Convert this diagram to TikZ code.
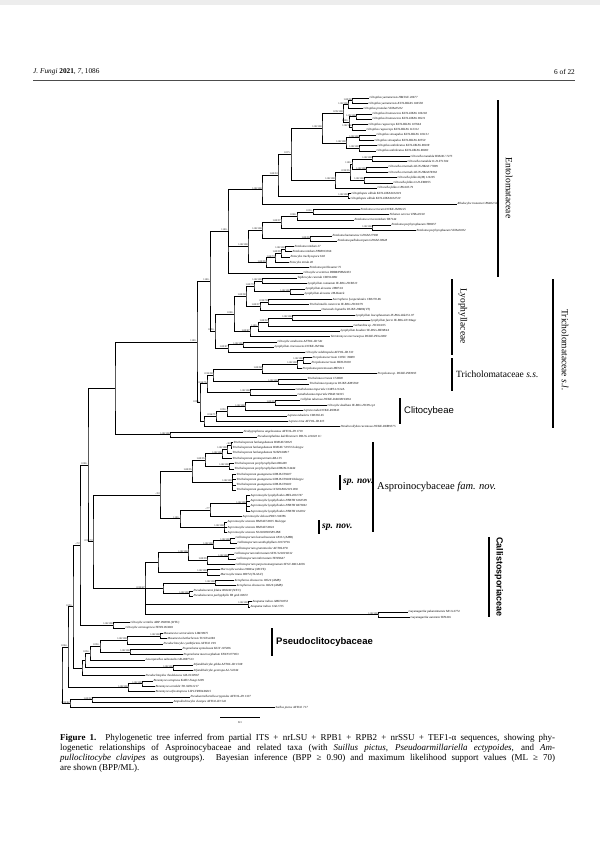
\documentclass[tikz,border=0pt]{standalone}
\usepackage{fontspec}
\setmainfont{Liberation Serif}
\newfontfamily\grpsans{Liberation Sans}
\tikzset{
  br/.style={line width=.6pt},
  taxon/.style={anchor=west,inner sep=.4pt,font=\fontsize{3.1}{3.2}\selectfont\itshape},
  supp/.style={font=\fontsize{2.6}{2.7}\selectfont,inner sep=.2pt},
  fambar/.style={line width=1.2pt},
  spbar/.style={line width=1.6pt},
  fam/.style={inner sep=0pt,font=\fontsize{9.5}{10}\selectfont},
}
\begin{document}
\begin{tikzpicture}[x=1pt,y=-1pt]
\useasboundingbox (0,0) rectangle (600,867);
\fill[black!7] (0,0) rectangle (600,5);
% running head
\node[anchor=west,inner sep=0pt,font=\fontsize{7.3}{8}\selectfont] (hdr) at (33,72) {\textit{J. Fungi} \textbf{2021}, \textit{7}, 1086};
\node[anchor=east,inner sep=0pt,font=\fontsize{7.3}{8}\selectfont] (pg) at (575,72) {6 of 22};
\draw[line width=.4pt,black!70] (33,80) -- (575,80);

\begin{scope}[y=-5.3pt,yshift=-92.7pt]
% taxa
\node[taxon] (t1) at (369,1) {Clitopilus yunnanensis HMJAU 20677};
\node[taxon] (t2) at (368,2) {Clitopilus yunnanensis KUN-HKAS 104558};
\node[taxon] (t3) at (363,3) {Clitopilus prunulus VHAs05/02};
\node[taxon] (t4) at (372,4) {Clitopilus brunnescens KUN-HKAS 106118};
\node[taxon] (t5) at (372,5) {Clitopilus brunnescens KUN-HKAS 90211};
\node[taxon] (t6) at (368,6) {Clitopilus rugosiceps KUN-HKAS 107664};
\node[taxon] (t7) at (366,7) {Clitopilus rugosiceps KUN-HKAS 112312};
\node[taxon] (t8) at (376,8) {Clitopilus sinoapalus KUN-HKAS 101131};
\node[taxon] (t9) at (374,9) {Clitopilus sinoapalus KUN-HKAS 82550};
\node[taxon] (t10) at (377,10) {Clitopilus umbilicatus KUN-HKAS 80018};
\node[taxon] (t11) at (376,11) {Clitopilus umbilicatus KUN-HKAS 80003};
\node[taxon] (t12) at (410,12) {Clitocella mundula HMJAU 7275};
\node[taxon] (t13) at (407,13) {Clitocella mundula O-D-F71504};
\node[taxon] (t14) at (388,14) {Clitocella orientalis KUN-HKAS 77899};
\node[taxon] (t15) at (388,15) {Clitocella orientalis KUN-HKAS78363};
\node[taxon] (t16) at (397,16) {Clitocella fallax K(M) 116195};
\node[taxon] (t17) at (393,17) {Clitocella fallax O-D-F88955};
\node[taxon] (t18) at (377,18) {Clitocella fallax CBS 605.79};
\node[taxon] (t19) at (351,19) {Clitopilopsis albida KUN-HKAS104119};
\node[taxon] (t20) at (350,20) {Clitopilopsis albida KUN-HKAS104720};
\node[taxon] (t21) at (457,21) {Rhodocybe truncata CBS482.50};
\node[taxon] (t22) at (360,22) {Entoloma sericeum DUKE-JM96/25};
\node[taxon] (t23) at (389,23) {Nolanea sericea VHAs03/02};
\node[taxon] (t24) at (354,24) {Entoloma sericeonitidum TB7144};
\node[taxon] (t25) at (391,25) {Entoloma porphyrophaeum TB6957};
\node[taxon] (t26) at (416,26) {Entoloma porphyrophaeum VHAs00/02};
\node[taxon] (t27) at (332,27) {Entoloma hainanense GDGM 27990};
\node[taxon] (t28) at (337,28) {Entoloma pallidocarpum GDGM 28928};
\node[taxon] (t29) at (294,29) {Entoloma nitidum 27};
\node[taxon] (t30) at (292,30) {Entoloma nitidum PBM913366};
\node[taxon] (t31) at (290,31) {Entocybe trachyospora 618};
\node[taxon] (t32) at (289,32) {Entocybe nitida 28};
\node[taxon] (t33) at (309,33) {Entoloma perbloxamii 75};
\node[taxon] (t34) at (303,34) {Clitocybe eccentrica DBB8/PBM2453};
\node[taxon] (t35) at (297,35) {Tephrocybe rancida CBJ914891};
\node[taxon] (t36) at (307,36) {Lyophyllum connatum IE-BSG-HCB513};
\node[taxon] (t37) at (305,37) {Lyophyllum decastes JM87/16};
\node[taxon] (t38) at (304,38) {Lyophyllum decastes JM-Ham/k};
\node[taxon] (t39) at (332,39) {Asterophora lycoperdoides CBS170.86};
\node[taxon] (t40) at (309,40) {Tricholomella constricta IE-BSG-HC94/79};
\node[taxon] (t41) at (321,41) {Ossicaulis lignatilis DUKE-DM06(VT)};
\node[taxon] (t42) at (355,42) {Lyophyllum leucophaeatum IE-BSG-Ktk251.97};
\node[taxon] (t43) at (370,43) {Lyophyllum favrei IE-BSG-HC94agc};
\node[taxon] (t44) at (353,44) {Gerhardtia sp. HC81/025};
\node[taxon] (t45) at (340,45) {Lyophyllum boudieri IE-BSG-HE98/44};
\node[taxon] (t46) at (330,46) {Termitomyces microcarpus DUKE-PEG2000};
\node[taxon] (t47) at (277,47) {Clitocybe candicans AFTOL-ID 541};
\node[taxon] (t48) at (274,48) {Lyophyllum cinerascens DUKE-JM 98a};
\node[taxon] (t49) at (305,49) {Clitocybe subditopoda AFTOL-ID 533};
\node[taxon] (t50) at (312,50) {Porpoloma terreum CONC 39809};
\node[taxon] (t51) at (311,51) {Porpoloma terreum HESU0030};
\node[taxon] (t52) at (302,52) {Porpoloma portentosum MES311};
\node[taxon] (t53) at (377,53) {Porpoloma sp. DUKE-PR3995};
\node[taxon] (t54) at (307,54) {Tricholoma terreum C59800};
\node[taxon] (t55) at (309,55) {Tricholoma myomyces DUKE-KM5569};
\node[taxon] (t56) at (295,56) {Catathelasma imperiale CORT-11CA/A};
\node[taxon] (t57) at (297,57) {Catathelasma imperiale PRAS 94315};
\node[taxon] (t58) at (300,58) {Collybia tuberosa DUKE-DAOM193061};
\node[taxon] (t59) at (327,59) {Clitocybe dealbata IE-BSG-HC99 ep1};
\node[taxon] (t60) at (303,60) {Lepista nuda DUKE-RVM45};
\node[taxon] (t61) at (287,61) {Lepista nebularis CBS365.65};
\node[taxon] (t62) at (288,62) {Lepista irina AFTOL-ID 815};
\node[taxon] (t63) at (340,63) {Dendrocollybia racemosa DUKE-DHR9575};
\node[taxon] (t64) at (243,64) {Neohygrophorus angelesianus AFTOL-ID 1719};
\node[taxon] (t65) at (257,65) {Pseudoomphalina kalchbrenneri DB IG 221020 1C};
\node[taxon] (t66) at (233,66) {Tricholosporum hailangshanum HMJAU59025};
\node[taxon] (t67) at (232,67) {Tricholosporum hailangshanum HMJAU 53972 holotype};
\node[taxon] (t68) at (232,68) {Tricholosporum hailangshanum NJZZ160817};
\node[taxon] (t69) at (232,69) {Tricholosporum goniospermum AR-135};
\node[taxon] (t70) at (234,70) {Tricholosporum porphyrophyllum 866449};
\node[taxon] (t71) at (234,71) {Tricholosporum porphyrophyllum HMJAU24444};
\node[taxon] (t72) at (236,72) {Tricholosporum guangxiense HMJAU59027};
\node[taxon] (t73) at (236,73) {Tricholosporum guangxiense HMJAU59028 Holotype};
\node[taxon] (t74) at (236,74) {Tricholosporum guangxiense HMJAU59023};
\node[taxon] (t75) at (236,75) {Tricholosporum guangxiense NJ2018022119 008};
\node[taxon] (t76) at (250,76) {Asproinocybe lyophylloides MEL2032747};
\node[taxon] (t77) at (250,77) {Asproinocybe lyophylloides PERTH 6163599};
\node[taxon] (t78) at (250,78) {Asproinocybe lyophylloides PERTH 8473861};
\node[taxon] (t79) at (250,79) {Asproinocybe lyophylloides PERTH 104292};
\node[taxon] (t80) at (242,80) {Asproinocybe dolosa PDD 104786};
\node[taxon] (t81) at (227,81) {Asproinocybe sinensis HMJAU59035 Holotype};
\node[taxon] (t82) at (227,82) {Asproinocybe sinensis HMJAU59024};
\node[taxon] (t83) at (227,83) {Asproinocybe sinensis NJ2020081589 IBK};
\node[taxon] (t84) at (235,84) {Callistosporium luteoolivaceum 18331 (AMB)};
\node[taxon] (t85) at (237,85) {Callistosporium xanthophyllum 20170716};
\node[taxon] (t86) at (235,86) {Callistosporium graminicolor AFTOL978};
\node[taxon] (t87) at (234,87) {Callistosporium imbricatum SFSU12020 8232};
\node[taxon] (t88) at (236,88) {Callistosporium imbricatum TENN647};
\node[taxon] (t89) at (235,89) {Callistosporium purpureomarginatum SFSU 4863-8236};
\node[taxon] (t90) at (220,90) {Macrocybe sardoa 2968Ga (MCVE)};
\node[taxon] (t91) at (220,91) {Macrocybe titans 98974 (TLAS-F)};
\node[taxon] (t92) at (234,92) {Xerophorus olivascens 18524 (AMB)};
\node[taxon] (t93) at (236,93) {Xerophorus olivascens 18226 (AMB)};
\node[taxon] (t94) at (193,94) {Pseudolaccaria feldea 008240 (WTU)};
\node[taxon] (t95) at (193,95) {Pseudolaccaria pachyphylla TR gmb 00672};
\node[taxon] (t96) at (252,96) {Anupama indica AMH10353};
\node[taxon] (t97) at (250,97) {Anupama indica CAL1725};
\node[taxon] (t98) at (408,98) {Guyanagarika pakaraimensis MCA 4774};
\node[taxon] (t99) at (410,99) {Guyanagarika aurantia TH9416};
\node[taxon] (t100) at (130,100) {Clitocybe vermilis ADP 090096 (WTU)};
\node[taxon] (t101) at (125,101) {Clitocybe carneogrisea TENN 063681};
\node[taxon] (t102) at (163,102) {Musumecia vermicularis LIM18975};
\node[taxon] (t103) at (167,103) {Musumecia bettlachensis TO HG2284};
\node[taxon] (t104) at (163,104) {Pseudoclitocybe cyathiformis AFTOL 199};
\node[taxon] (t105) at (182,105) {Pogonoloma spinulosum KUN 107286};
\node[taxon] (t106) at (183,106) {Pogonoloma macrocephalum TENN 077853};
\node[taxon] (t107) at (145,107) {Leucopaxillus subzonalis GB-0087513};
\node[taxon] (t108) at (193,108) {Infundibulicybe gibba AFTOL-ID 1508};
\node[taxon] (t109) at (193,109) {Infundibulicybe geotropa AL-V4344};
\node[taxon] (t110) at (145,110) {Pseudoclitopilus rhodoleucus GB-0130967};
\node[taxon] (t111) at (153,111) {Bonomyces sinopicus KATO Fungi 3499};
\node[taxon] (t112) at (155,112) {Bonomyces arnoldii TO AV011217};
\node[taxon] (t113) at (155,113) {Bonomyces afrosinopicus LIP LYRY0446015};
\node[taxon] (t114) at (190,114) {Pseudoarmillariella ectypoides AFTOL-ID 1337};
\node[taxon] (t115) at (173,115) {Ampulloclitocybe clavipes AFTOL-ID 542};
\node[taxon] (t116) at (275,116) {Suillus pictus AFTOL 717};

% Entolomataceae
\coordinate[label={[supp]above left:1.00/98}] (a1) at (352,1.5);
\coordinate[label={[supp]above left:1.00/100}] (a2) at (348,2.25);
\coordinate[label={[supp]above left:1.00/100}] (a3) at (356,4.5);
\coordinate[label={[supp]above left:1.00/100}] (a4) at (352,6.5);
\coordinate[label={[supp]above left:1.00/-}] (a5) at (349,5.5);
\coordinate[label={[supp]above left:0.99/100}] (a6) at (343,3.88);
\coordinate[label={[supp]above left:1.00/100}] (a7) at (359,8.5);
\coordinate[label={[supp]above left:1.00/100}] (a8) at (359,10.5);
\coordinate[label={[supp]above left:1.00/100}] (a9) at (346,9.5);
\coordinate[label={[supp]above left:1.00/100}] (a10) at (322,6.69);
\coordinate[label={[supp]above left:1.00/100}] (a11) at (372,12.5);
\coordinate[label={[supp]above left:1.00/100}] (a12) at (366,14.5);
\coordinate[label={[supp]above left:1.00/-}] (a13) at (352,13.5);
\coordinate[label={[supp]above left:1.00/100}] (a14) at (364,16.5);
\coordinate[label={[supp]above left:0.99/95}] (a15) at (350,15);
\coordinate[label={[supp]above left:1.00/100}] (a16) at (335,16.5);
\coordinate[label={[supp]above left:1.00/100}] (a17) at (348,19.5);
\coordinate[label={[supp]above left:0.97/-}] (a18) at (291,11.59);
\coordinate[label={[supp]above left:1.00/93}] (a19) at (278,15.55);
\coordinate[label={[supp]above left:1.00/100}] (a20) at (262,18.27);
\coordinate[label={[supp]above left:0.99/-}] (a21) at (313,22.5);
\coordinate[label={[supp]above left:0.98/-}] (a22) at (297,23.25);
\coordinate[label={[supp]above left:1.00/100}] (a23) at (372,25.5);
\coordinate[label={[supp]above left:1.00/97}] (a24) at (281,24.38);
\coordinate[label={[supp]above left:1.00/99}] (a25) at (310,27.5);
\coordinate[label={[supp]above left:1.00/100}] (a26) at (262,25.94);
\coordinate[label={[supp]above left:1.00/100}] (a27) at (285,29.5);
\coordinate[label={[supp]above left:1.00/99}] (a28) at (281,30.25);
\coordinate[label={[supp]above left:1.00/73}] (a29) at (275,31.13);
\coordinate[label={[supp]above left:1.00/99}] (a30) at (266,32.06);
\coordinate[label={[supp]above left:1.00/100}] (a31) at (248,29);
\coordinate[label={[supp]above left:1.00/-}] (a32) at (228,26.13);
\draw[br] (t1.west) -| (a1) |- (t2.west);
\draw[br] (a1) -| (a2) |- (t3.west);
\draw[br] (t4.west) -| (a3) |- (t5.west);
\draw[br] (t6.west) -| (a4) |- (t7.west);
\draw[br] (a3) -| (a5) |- (a4);
\draw[br] (a2) -| (a6) |- (a5);
\draw[br] (t8.west) -| (a7) |- (t9.west);
\draw[br] (t10.west) -| (a8) |- (t11.west);
\draw[br] (a7) -| (a9) |- (a8);
\draw[br] (a6) -| (a10) |- (a9);
\draw[br] (t12.west) -| (a11) |- (t13.west);
\draw[br] (t14.west) -| (a12) |- (t15.west);
\draw[br] (a11) -| (a13) |- (a12);
\draw[br] (t16.west) -| (a14) |- (t17.west);
\draw[br] (a13) -| (a15) |- (a14);
\draw[br] (a15) -| (a16) |- (t18.west);
\draw[br] (t19.west) -| (a17) |- (t20.west);
\draw[br] (a10) -| (a18) |- (a16);
\draw[br] (a18) -| (a19) |- (a17);
\draw[br] (a19) -| (a20) |- (t21.west);
\draw[br] (t22.west) -| (a21) |- (t23.west);
\draw[br] (a21) -| (a22) |- (t24.west);
\draw[br] (t25.west) -| (a23) |- (t26.west);
\draw[br] (a22) -| (a24) |- (a23);
\draw[br] (t27.west) -| (a25) |- (t28.west);
\draw[br] (a24) -| (a26) |- (a25);
\draw[br] (t29.west) -| (a27) |- (t30.west);
\draw[br] (a27) -| (a28) |- (t31.west);
\draw[br] (a28) -| (a29) |- (t32.west);
\draw[br] (a29) -| (a30) |- (t33.west);
\draw[br] (a26) -| (a31) |- (a30);
\draw[br] (a20) -| (a32) |- (t34.west) (a32) |- (a31);

% Lyophyllaceae
\coordinate[label={[supp]above left:1.00/100}] (b1) at (262,35.5);
\coordinate[label={[supp]above left:1.00/100}] (b2) at (290,37.5);
\coordinate[label={[supp]above left:1.00/79}] (b3) at (254,36.5);
\coordinate[label={[supp]above left:0.99/78}] (b4) at (268,39.5);
\coordinate[label={[supp]above left:1.00/97}] (b5) at (260,40.25);
\coordinate[label={[supp]above left:1.00/98}] (b6) at (246,38.38);
\coordinate[label={[supp]above left:1.00/100}] (b7) at (292,42.5);
\coordinate[label={[supp]above left:1.00/92}] (b8) at (268,43.25);
\coordinate[label={[supp]above left:1.00/-}] (b9) at (258,44.13);
\coordinate[label={[supp]above left:1.00/87}] (b10) at (250,45.06);
\coordinate[label={[supp]above left:0.98/-}] (b11) at (234,41.72);
\coordinate[label={[supp]above left:1.00/100}] (b12) at (243,47.5);
\coordinate[label={[supp]above left:1.00/87}] (b13) at (228,48.25);
\coordinate[label={[supp]above left:0.99/-}] (b14) at (215,44.98);
\draw[br] (t35.west) -| (b1) |- (t36.west);
\draw[br] (t37.west) -| (b2) |- (t38.west);
\draw[br] (b1) -| (b3) |- (b2);
\draw[br] (t39.west) -| (b4) |- (t40.west);
\draw[br] (b4) -| (b5) |- (t41.west);
\draw[br] (b3) -| (b6) |- (b5);
\draw[br] (t42.west) -| (b7) |- (t43.west);
\draw[br] (b7) -| (b8) |- (t44.west);
\draw[br] (b8) -| (b9) |- (t45.west);
\draw[br] (b9) -| (b10) |- (t46.west);
\draw[br] (b6) -| (b11) |- (b10);
\draw[br] (t47.west) -| (b12) |- (t48.west);
\draw[br] (b12) -| (b13) |- (t49.west);
\draw[br] (b11) -| (b14) |- (b13);

% Tricholomataceae s.s. and Clitocybeae
\coordinate[label={[supp]above left:1.00/100}] (c1) at (303,50.5);
\coordinate[label={[supp]above left:1.00/100}] (c2) at (297,51.25);
\coordinate[label={[supp]above left:1.00/98}] (c3) at (262,52.13);
\coordinate[label={[supp]above left:1.00/100}] (c4) at (278,54.5);
\coordinate[label={[supp]above left:0.99/98}] (c5) at (213,53.31);
\coordinate[label={[supp]above left:1.00/100}] (c6) at (250,56.5);
\coordinate[label={[supp]above left:0.94/76}] (c7) at (207,54.91);
\draw[br] (t50.west) -| (c1) |- (t51.west);
\draw[br] (c1) -| (c2) |- (t52.west);
\draw[br] (c2) -| (c3) |- (t53.west);
\draw[br] (t54.west) -| (c4) |- (t55.west);
\draw[br] (c3) -| (c5) |- (c4);
\draw[br] (t56.west) -| (c6) |- (t57.west);
\draw[br] (c5) -| (c7) |- (c6);
\coordinate[label={[supp]above left:1.00/99}] (d1) at (275,58.5);
\coordinate[label={[supp]above left:1.00/100}] (d2) at (245,59.25);
\coordinate[label={[supp]above left:0.99/-}] (d3) at (227,60.13);
\coordinate[label={[supp]above left:0.96/71}] (d4) at (216,61.06);
\coordinate (d5) at (204,62.03);
\draw[br] (t58.west) -| (d1) |- (t59.west);
\draw[br] (d1) -| (d2) |- (t60.west);
\draw[br] (d2) -| (d3) |- (t61.west);
\draw[br] (d3) -| (d4) |- (t62.west);
\draw[br] (d4) -| (d5) |- (t63.west);
\coordinate[label={[supp]above left:1.00/100}] (e1) at (170,64.5);
\draw[br] (t64.west) -| (e1) |- (t65.west);
\coordinate[label={[supp]above left:1.00/-}] (f1) at (210,35.55);
\coordinate[label={[supp]above left:0.99/-}] (f3) at (200,58.47);
\coordinate[label={[supp]above left:1.00/-}] (f2) at (197,47.01);
\coordinate (f4) at (115,55.76);
\draw[br] (a32) -| (f1) |- (b14);
\draw[br] (c7) -| (f3) |- (d5);
\draw[br] (f1) -| (f2) |- (f3);
\draw[br] (f2) -| (f4) |- (e1);

% Asproinocybaceae
\coordinate[label={[supp]above left:-/83}] (g1) at (231,66.5);
\coordinate[label={[supp]above left:1.00/100}] (g2) at (227,67.25);
\coordinate[label={[supp]above left:1.00/100}] (g3) at (222,68.13);
\coordinate[label={[supp]above left:1.00/100}] (g4) at (229,70.5);
\coordinate[label={[supp]above left:1.00/95}] (g5) at (205,69.31);
\coordinate[label={[supp]above left:1.00/100}] (g6) at (232,73.5);
\coordinate[label={[supp]above left:1.00/95}] (g7) at (192,71.41);
\coordinate[label={[supp]above left:1.00/100}] (g8) at (246,77.5);
\coordinate[label={[supp]above left:-/77}] (g9) at (210,78.75);
\coordinate[label={[supp]above left:1.00/100}] (g10) at (224,82);
\coordinate[label={[supp]above left:1.00/-}] (g11) at (180,80.38);
\coordinate[label={[supp]above left:-/93}] (g12) at (160,75.89);
\draw[br] (t66.west) -| (g1) |- (t67.west);
\draw[br] (g1) -| (g2) |- (t68.west);
\draw[br] (g2) -| (g3) |- (t69.west);
\draw[br] (t70.west) -| (g4) |- (t71.west);
\draw[br] (g3) -| (g5) |- (g4);
\draw[br] (t72.west) -| (g6) |- (t75.west) (g6) |- (t73.west) (g6) |- (t74.west);
\draw[br] (g5) -| (g7) |- (g6);
\draw[br] (t76.west) -| (g8) |- (t79.west) (g8) |- (t77.west) (g8) |- (t78.west);
\draw[br] (g8) -| (g9) |- (t80.west);
\draw[br] (t81.west) -| (g10) |- (t83.west) (g10) |- (t82.west);
\draw[br] (g9) -| (g11) |- (g10);
\draw[br] (g7) -| (g12) |- (g11);

% Callistosporiaceae
\coordinate[label={[supp]above left:1.00/100}] (h1) at (230,84.5);
\coordinate[label={[supp]above left:1.00/100}] (h2) at (213,85.25);
\coordinate[label={[supp]above left:1.00/100}] (h3) at (228,87.5);
\coordinate[label={[supp]above left:1.00/99}] (h4) at (207,88.25);
\coordinate[label={[supp]above left:1.00/100}] (h5) at (188,86.75);
\coordinate[label={[supp]above left:1.00/100}] (h6) at (207,90.5);
\coordinate (h7) at (158,88.63);
\coordinate[label={[supp]above left:1.00/100}] (h8) at (215,92.5);
\coordinate[label={[supp]above left:1.00/100}] (h9) at (189,94.5);
\coordinate (h10) at (163,93.5);
\coordinate[label={[supp]above left:1.00/100}] (h12) at (248,96.5);
\coordinate[label={[supp]above left:1.00/100}] (h14) at (378,98.5);
\coordinate[label={[supp]above left:0.99/67}] (hp) at (145,93.57);
\draw[br] (t84.west) -| (h1) |- (t85.west);
\draw[br] (h1) -| (h2) |- (t86.west);
\draw[br] (t87.west) -| (h3) |- (t88.west);
\draw[br] (h3) -| (h4) |- (t89.west);
\draw[br] (h2) -| (h5) |- (h4);
\draw[br] (t90.west) -| (h6) |- (t91.west);
\draw[br] (h5) -| (h7) |- (h6);
\draw[br] (t92.west) -| (h8) |- (t93.west);
\draw[br] (t94.west) -| (h9) |- (t95.west);
\draw[br] (h8) -| (h10) |- (h9);
\draw[br] (t96.west) -| (h12) |- (t97.west);
\draw[br] (t98.west) -| (h14) |- (t99.west);
\draw[br] (h7) -| (hp) |- (h14) (hp) |- (h10) (hp) |- (h12);

% lower part and outgroups
\coordinate[label={[supp]above left:0.99/72}] (m1) at (93,84.73);
\coordinate[label={[supp]above left:0.98/-}] (m2) at (88,70.25);
\coordinate[label={[supp]above left:1.00/100}] (i1) at (113,100.5);
\coordinate[label={[supp]above left:-/72}] (m3) at (80,85.38);
\draw[br] (g12) -| (m1) |- (hp);
\draw[br] (f4) -| (m2) |- (m1);
\draw[br] (t100.west) -| (i1) |- (t101.west);
\draw[br] (m2) -| (m3) |- (i1);
\coordinate[label={[supp]above left:1.00/100}] (j1) at (160,102.5);
\coordinate[label={[supp]above left:1.00/100}] (j2) at (127,103.25);
\coordinate[label={[supp]above left:1.00/100}] (j3) at (130,105.5);
\coordinate[label={[supp]above left:0.99/-}] (j4) at (100,104.38);
\coordinate[label={[supp]above left:0.95/-}] (j5) at (90,105.69);
\coordinate[label={[supp]above left:1.00/100}] (j6) at (173,108.5);
\coordinate (j7) at (85,107.1);
\coordinate (j8) at (82,108.55);
\draw[br] (t102.west) -| (j1) |- (t103.west);
\draw[br] (j1) -| (j2) |- (t104.west);
\draw[br] (t105.west) -| (j3) |- (t106.west);
\draw[br] (j2) -| (j4) |- (j3);
\draw[br] (j4) -| (j5) |- (t107.west);
\draw[br] (t108.west) -| (j6) |- (t109.west);
\draw[br] (j5) -| (j7) |- (j6);
\draw[br] (j7) -| (j8) |- (t110.west);
\coordinate[label={[supp]above left:1.00/100}] (k1) at (142,111.5);
\coordinate[label={[supp]above left:1.00/100}] (k2) at (128,112.25);
\draw[br] (t111.west) -| (k1) |- (t112.west);
\draw[br] (k1) -| (k2) |- (t113.west);
\coordinate[label={[supp]above left:0.99/-}] (m4) at (73,96.97);
\coordinate[label={[supp]above left:0.96/-}] (m5) at (68,104.61);
\draw[br] (m3) -| (m4) |- (j8);
\draw[br] (m4) -| (m5) |- (k2);
\coordinate[label={[supp]above left:1.00/92}] (o1) at (92,114.5);
\coordinate[label={[supp]above left:0.99/82}] (o2) at (70,115.25);
\coordinate (root) at (62,109.93);
\draw[br] (t114.west) -| (o1) |- (t115.west);
\draw[br] (o1) -| (o2) |- (t116.west);
\draw[br] (m5) -| (root) |- (o2);
\end{scope}

% clade bars
\draw[fambar] (498,100) -- (498,277);
\node[fam,rotate=-90] (entol) at (509,188) {Entolomataceae};
\draw[fambar] (452,279) -- (452,355);
\node[fam,rotate=-90] (lyoph) at (463,316) {Lyophyllaceae};
\draw[fambar] (452,358) -- (452,391);
\node[fam,anchor=west] (trss) at (456,374) {Tricholomataceae \textit{s.s.}};
\draw[fambar] (400,398) -- (400,424);
\node[fam,anchor=west,font=\grpsans\fontsize{9.5}{10}\selectfont] (clit) at (404,411) {Clitocybeae};
\draw[fambar] (553,279) -- (553,428);
\node[fam,rotate=-90] (trsl) at (565,350) {Tricholomataceae \textit{s.l.}};
\draw[fambar] (373,442) -- (373,532);
\node[fam,anchor=west,font=\fontsize{10.5}{11}\selectfont] (aspro) at (377,487) {Asproinocybaceae \textit{fam. nov.}};
\draw[spbar] (340,475) -- (340,490);
\node[fam,anchor=west] (spn1) at (343,482) {\textbf{\textit{sp. nov.}}};
\draw[spbar] (319,520) -- (319,534);
\node[fam,anchor=west] (spn2) at (322,527) {\textbf{\textit{sp. nov.}}};
\draw[fambar] (489,537) -- (489,617);
\node[fam,rotate=-90,font=\grpsans\bfseries\fontsize{9}{10}\selectfont] (calli) at (499,577) {Callistosporiaceae};
\draw[fambar] (272,628) -- (272,656);
\node[fam,anchor=west,font=\grpsans\bfseries\fontsize{9.5}{10}\selectfont] (pseudo) at (276,642) {Pseudoclitocybaceae};

% scale bar
\draw[br] (220,717) -- (260,717);
\node[supp,font=\fontsize{3}{3}\selectfont] (scl) at (240,723) {0.1};

% caption
\node[anchor=north west,inner sep=0pt,align=left,font=\fontsize{9}{10}\selectfont] (cap) at (60,734) {%
\makebox[495pt][s]{\textbf{Figure 1.} Phylogenetic tree inferred from partial ITS + nrLSU + RPB1 + RPB2 + nrSSU + TEF1-α sequences, showing phy-}\\
\makebox[495pt][s]{logenetic relationships of Asproinocybaceae and related taxa (with \textit{Suillus pictus}, \textit{Pseudoarmillariella ectypoides}, and \textit{Am-}}\\
\makebox[495pt][s]{\textit{pulloclitocybe clavipes} as outgroups). Bayesian inference (BPP ≥ 0.90) and maximum likelihood support values (ML ≥ 70)}\\
are shown (BPP/ML).};
\end{tikzpicture}
\end{document}
